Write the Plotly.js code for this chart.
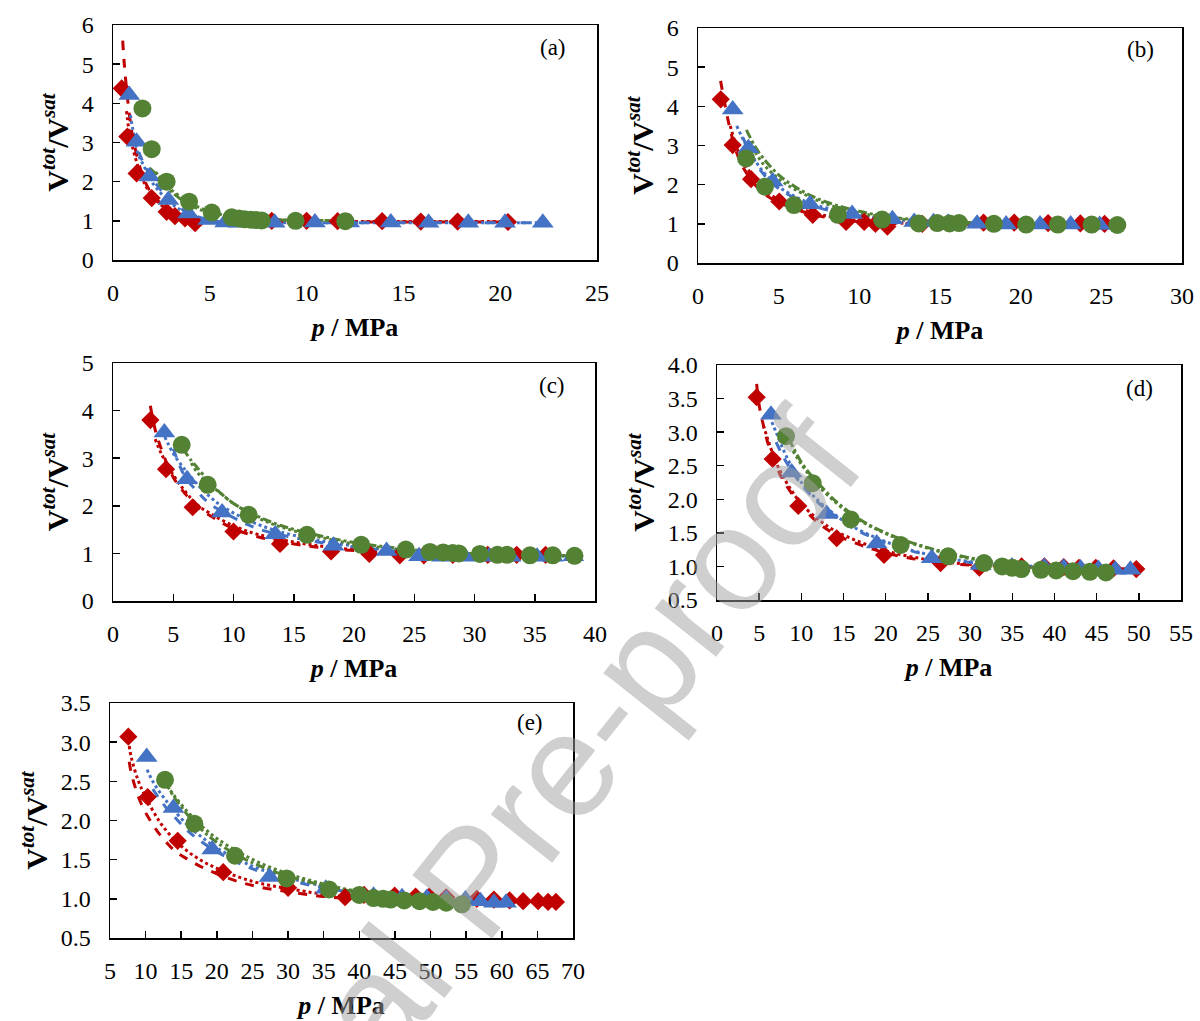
<!DOCTYPE html>
<html>
<head>
<meta charset="utf-8">
<script src="https://cdn.plot.ly/plotly-3.0.1.min.js"></script>
<style>html,body{margin:0;padding:0;background:#fff;}#chart{width:1200px;height:1021px;}</style>
</head>
<body>
<div id="chart"></div>
<script>
// ---------- Panel (a) ----------
const pA_red   = [0.45,0.74,1.22,2.0,2.77,3.2,3.72,4.24,8.2,10.0,11.6,13.9,15.9,17.8,20.4];
const vA_red   = [4.38,3.15,2.21,1.58,1.23,1.12,1.06,0.94,1.0,1.0,0.99,0.99,0.98,0.98,0.97];
const pA_blue  = [0.84,1.22,1.88,2.86,3.89,4.92,5.79,6.47,8.35,10.43,12.2,14.35,16.3,18.35,20.25,22.2];
const vA_blue  = [4.21,3.02,2.13,1.53,1.19,1.02,0.96,0.95,0.95,0.96,0.96,0.96,0.95,0.95,0.95,0.95];
const pA_green = [1.52,2.0,2.77,3.93,5.1,6.13,6.5,6.8,7.1,7.4,7.68,9.43,12.0];
const vA_green = [3.87,2.83,2.0,1.49,1.21,1.09,1.06,1.04,1.03,1.02,1.01,1.0,0.99];
// model curves (a)
const mA_red1_p = [0.5,0.6,0.8,1.0,1.5,2.0,3.0,4.0,5.0,7.0,10,15,20.5];
const mA_red1_v = [5.6,4.9,3.9,3.2,2.2,1.7,1.25,1.05,0.98,0.97,0.97,0.97,0.97];
const mA_red2_p = [0.7,0.8,1.0,1.5,2.0,3.0,4.0,5.0,8.0,12,20.5];
const mA_red2_v = [3.8,3.4,2.9,2.1,1.65,1.22,1.04,0.98,0.98,0.98,0.98];
const mA_blue1_p = [0.9,1.0,1.3,1.6,2.0,3.0,4.0,5.0,6.0,8.0,12,22.3];
const mA_blue1_v = [3.7,3.4,2.7,2.4,2.0,1.45,1.15,1.0,0.95,0.95,0.95,0.95];
const mA_blue2_p = [1.1,1.3,1.6,2.0,3.0,4.0,5.0,6.0,8.0,12,22.3];
const mA_blue2_v = [3.2,2.8,2.45,2.1,1.5,1.18,1.02,0.96,0.95,0.95,0.95];
const mA_green1_p = [1.9,2.4,3.0,4.0,5.0,6.0,7.6,9.5,12];
const mA_green1_v = [2.35,2.1,1.75,1.4,1.2,1.1,1.03,1.02,1.0];
const mA_green2_p = [2.2,2.6,3.0,4.0,5.0,6.0,7.6,9.5,12];
const mA_green2_v = [2.25,2.0,1.8,1.45,1.24,1.12,1.04,1.02,1.0];

// ---------- Panel (b) ----------
const pB_red   = [1.41,2.15,3.29,5.04,7.11,9.18,10.3,11.0,11.74,13.9,17.7,19.6,21.7,23.7,25.2];
const vB_red   = [4.18,3.01,2.14,1.57,1.23,1.05,1.05,1.0,0.93,1.0,1.03,1.03,1.02,1.01,1.0];
const pB_blue  = [2.15,3.12,4.63,6.94,9.55,12.05,13.4,14.6,15.5,17.3,19.1,21.2,23.1,24.9];
const vB_blue  = [3.92,2.93,2.08,1.5,1.25,1.12,1.05,1.04,1.03,1.0,0.98,0.98,0.98,0.97];
const pB_green = [2.98,4.15,5.95,8.67,11.41,13.68,14.83,15.59,16.18,18.34,20.34,22.3,24.4,25.99];
const vB_green = [2.67,1.95,1.48,1.23,1.11,1.01,1.02,1.01,1.02,1.0,0.98,0.98,0.98,0.97];
const mB_red1_p = [1.4,1.6,2.0,2.5,3.0,4.0,5.0,7.0,9.0,11,13,17,21,25.2];
const mB_red1_v = [4.65,4.2,3.4,2.7,2.3,1.8,1.55,1.25,1.1,1.03,1.0,0.98,0.97,0.97];
const mB_red2_p = [2.0,2.5,3.0,4.0,5.0,7.0,9.0,12,16,20,25];
const mB_red2_v = [3.5,2.85,2.45,1.9,1.62,1.3,1.13,1.03,0.99,0.98,0.97];
const mB_blue1_p = [2.4,3.0,4.0,5.0,6.0,7.0,9.0,11,13,17,21,25];
const mB_blue1_v = [3.5,3.0,2.35,1.95,1.7,1.52,1.3,1.16,1.08,1.02,1.0,0.99];
const mB_blue2_p = [2.8,3.0,4.0,5.0,7.0,9.0,12,15,20,25];
const mB_blue2_v = [3.2,3.0,2.3,1.9,1.48,1.27,1.1,1.04,1.0,0.99];
const mB_green1_p = [3.0,3.5,4.0,5.0,6.0,7.0,8.0,10,12,15,20,26];
const mB_green1_v = [3.4,3.0,2.7,2.25,1.95,1.72,1.55,1.32,1.17,1.06,1.0,0.98];
const mB_green2_p = [3.2,4.0,5.0,6.0,8.0,10,12,15,20,26];
const mB_green2_v = [3.1,2.55,2.15,1.88,1.5,1.28,1.15,1.05,0.99,0.98];

// ---------- Panel (c) ----------
const pC_red   = [3.1,4.4,6.61,10.0,13.86,18.1,21.27,23.8,25.8,28.2,31.1,33.5,35.9];
const vC_red   = [3.8,2.77,1.97,1.46,1.2,1.04,0.99,0.96,0.96,0.97,0.97,0.97,0.97];
const pC_blue  = [4.26,6.14,9.05,13.47,18.3,22.7,25.4,27.3,29.2,31.2,33.0,35.2,36.5,38.2];
const vC_blue  = [3.54,2.56,1.86,1.4,1.16,1.05,0.94,0.93,0.93,0.93,0.93,0.93,0.93,0.94];
const pC_green = [5.7,7.86,11.26,16.1,20.6,24.3,26.3,27.4,28.2,28.7,30.45,31.9,32.7,34.6,36.5,38.3];
const vC_green = [3.28,2.44,1.81,1.39,1.18,1.08,1.03,1.02,1.01,1.0,0.99,0.97,0.97,0.96,0.96,0.95];
const mC_red1_p = [3.1,3.5,4,5,6,7,8,10,12,14,17,20,25,30,36];
const mC_red1_v = [4.1,3.6,3.2,2.6,2.25,1.98,1.8,1.52,1.35,1.24,1.13,1.06,1.0,0.97,0.96];
const mC_red2_p = [3.5,4,5,6,7,8,10,12,15,18,22,26,30,36];
const mC_red2_v = [3.4,3.1,2.65,2.3,2.02,1.85,1.58,1.4,1.24,1.13,1.04,1.0,0.97,0.96];
const mC_blue1_p = [4.3,5,6,7,8,9,11,13,15,18,22,26,30,38];
const mC_blue1_v = [3.45,3.1,2.75,2.45,2.2,2.0,1.72,1.52,1.38,1.23,1.1,1.02,0.98,0.94];
const mC_blue2_p = [5,6,7,8,10,12,15,18,22,26,30,38];
const mC_blue2_v = [3.2,2.6,2.3,2.05,1.75,1.52,1.33,1.2,1.08,1.0,0.96,0.93];
const mC_green1_p = [5.8,6.5,7,8,9,10,12,14,17,20,24,28,32,38.3];
const mC_green1_v = [3.2,2.95,2.8,2.5,2.25,2.05,1.78,1.58,1.38,1.23,1.1,1.02,0.98,0.95];
const mC_green2_p = [6.5,7,8,9,10,12,14,17,20,24,28,32,38.3];
const mC_green2_v = [2.9,2.7,2.45,2.25,2.05,1.75,1.55,1.35,1.2,1.08,1.01,0.98,0.95];

// ---------- Panel (d) ----------
const pD_red   = [4.7,6.6,9.64,14.19,19.8,26.5,31.1,36.1,38.8,41.1,42.9,44.9,47.0,49.7];
const vD_red   = [3.52,2.6,1.9,1.42,1.17,1.05,0.98,1.0,1.0,0.99,0.98,0.98,0.97,0.96];
const pD_blue  = [6.4,8.85,13.0,18.93,25.45,31.26,34.96,38.8,41.1,43.1,45.2,47.2,49.0];
const vD_blue  = [3.26,2.4,1.78,1.34,1.12,1.02,1.0,0.99,0.98,0.97,0.96,0.95,0.95];
const pD_green = [8.18,11.34,15.85,21.77,27.4,31.65,33.8,35.0,36.1,38.4,40.2,42.2,44.2,46.1];
const vD_green = [2.94,2.24,1.7,1.32,1.15,1.05,1.0,0.98,0.96,0.95,0.94,0.93,0.92,0.91];
const mD_red1_p = [4.7,5,5.5,6,7,8,10,12,14,17,20,25,30,35,40,45,50];
const mD_red1_v = [3.72,3.4,3.1,2.85,2.5,2.25,1.9,1.65,1.48,1.32,1.2,1.08,1.02,1.0,0.98,0.97,0.96];
const mD_red2_p = [5.5,6,7,8,9,10,12,14,17,20,25,30,35,40,45,50];
const mD_red2_v = [3.1,2.9,2.55,2.3,2.1,1.93,1.7,1.53,1.36,1.23,1.1,1.03,1.0,0.98,0.97,0.96];
const mD_blue1_p = [6.5,7,8,9,10,12,14,16,19,22,25,30,35,40,45,49];
const mD_blue1_v = [3.15,3.0,2.7,2.45,2.25,1.98,1.77,1.6,1.42,1.28,1.18,1.07,1.02,0.99,0.97,0.95];
const mD_blue2_p = [7,8,9,10,12,14,16,19,22,25,30,35,40,45,49];
const mD_blue2_v = [2.85,2.6,2.4,2.22,1.95,1.75,1.58,1.4,1.27,1.17,1.06,1.01,0.98,0.96,0.95];
const mD_green1_p = [8.5,9,10,11,12,14,16,18,20,22,25,28,32,36,40,46];
const mD_green1_v = [2.9,2.78,2.55,2.38,2.24,1.98,1.78,1.62,1.5,1.4,1.28,1.18,1.08,1.0,0.96,0.91];
const mD_green2_p = [9,10,11,12,14,16,18,20,22,25,28,32,36,40,46];
const mD_green2_v = [2.72,2.52,2.35,2.2,1.96,1.76,1.61,1.49,1.39,1.27,1.17,1.07,1.0,0.96,0.91];

// ---------- Panel (e) ----------
const pE_red   = [7.57,10.29,14.5,20.9,30.0,38.0,40.66,44.96,47.9,49.8,52.2,56.5,58.9,61.1,63.0,65.1,66.5,67.6];
const vE_red   = [3.07,2.3,1.74,1.34,1.14,1.02,1.05,1.04,1.03,1.03,1.02,1.0,0.99,0.98,0.97,0.97,0.96,0.96];
const pE_blue  = [10.15,13.9,19.35,27.4,35.3,42.0,46.0,49.5,52.2,54.9,57.0,58.9,60.6];
const vE_blue  = [2.81,2.16,1.63,1.28,1.13,1.04,1.02,1.01,1.0,0.99,0.97,0.95,0.95];
const pE_green = [12.72,16.84,22.55,29.8,35.75,40.0,42.0,43.35,44.4,46.3,48.45,50.35,52.2,54.4];
const vE_green = [2.52,1.96,1.55,1.26,1.12,1.05,1.01,1.0,0.99,0.98,0.97,0.96,0.95,0.93];
const mE_red1_p = [7.7,8,9,10,11,12,14,16,18,20,23,26,30,35,40,45,50,55,60,67.5];
const mE_red1_v = [2.75,2.6,2.3,2.1,1.95,1.82,1.62,1.5,1.4,1.32,1.22,1.15,1.09,1.03,1.0,0.99,0.98,0.97,0.97,0.96];
const mE_red2_p = [7.7,8,9,10,12,14,16,18,20,23,26,30,35,40,45,50,55,60,67.5];
const mE_red2_v = [2.95,2.8,2.5,2.3,1.98,1.76,1.6,1.48,1.39,1.28,1.2,1.13,1.06,1.02,1.0,0.99,0.98,0.97,0.96];
const mE_blue1_p = [10.2,11,12,13,14,16,18,20,23,26,30,35,40,45,50,55,60.5];
const mE_blue1_v = [2.65,2.5,2.36,2.24,2.13,1.93,1.78,1.65,1.5,1.38,1.27,1.16,1.08,1.03,1.0,0.98,0.95];
const mE_blue2_p = [11,12,13,14,16,18,20,23,26,30,35,40,45,50,55,60.5];
const mE_blue2_v = [2.4,2.27,2.15,2.05,1.86,1.72,1.6,1.46,1.35,1.24,1.14,1.07,1.02,0.99,0.97,0.95];
const mE_green1_p = [12.7,14,16,18,20,23,26,30,35,40,45,50,54.5];
const mE_green1_v = [2.5,2.3,2.06,1.87,1.72,1.55,1.42,1.29,1.17,1.08,1.02,0.97,0.93];
const mE_green2_p = [13,14,16,18,20,23,26,30,35,40,45,50,54.5];
const mE_green2_v = [2.45,2.32,2.1,1.92,1.77,1.6,1.46,1.32,1.19,1.09,1.02,0.97,0.93];

const panelLabels = ['(a)','(b)','(c)','(d)','(e)'];
const xTitle = '<b><i>p</i> / MPa</b>';
const yTitle = '<b>V<sup><i>tot</i></sup>/V<sup><i>sat</i></sup></b>';
const watermark = 'Journal Pre-proof';

// ---------- styles ----------
const RED = '#C00000', BLUE = '#4472C4', GREEN = '#548235';
const serif = '"Liberation Serif", "Times New Roman", serif';

const panels = [
  {id:'', mk:[[pA_red,vA_red],[pA_blue,vA_blue],[pA_green,vA_green]],
   ml:[[mA_red1_p,mA_red1_v],[mA_red2_p,mA_red2_v],[mA_blue1_p,mA_blue1_v],[mA_blue2_p,mA_blue2_v],[mA_green1_p,mA_green1_v],[mA_green2_p,mA_green2_v]]},
  {id:'2', mk:[[pB_red,vB_red],[pB_blue,vB_blue],[pB_green,vB_green]],
   ml:[[mB_red1_p,mB_red1_v],[mB_red2_p,mB_red2_v],[mB_blue1_p,mB_blue1_v],[mB_blue2_p,mB_blue2_v],[mB_green1_p,mB_green1_v],[mB_green2_p,mB_green2_v]]},
  {id:'3', mk:[[pC_red,vC_red],[pC_blue,vC_blue],[pC_green,vC_green]],
   ml:[[mC_red1_p,mC_red1_v],[mC_red2_p,mC_red2_v],[mC_blue1_p,mC_blue1_v],[mC_blue2_p,mC_blue2_v],[mC_green1_p,mC_green1_v],[mC_green2_p,mC_green2_v]]},
  {id:'4', mk:[[pD_red,vD_red],[pD_blue,vD_blue],[pD_green,vD_green]],
   ml:[[mD_red1_p,mD_red1_v],[mD_red2_p,mD_red2_v],[mD_blue1_p,mD_blue1_v],[mD_blue2_p,mD_blue2_v],[mD_green1_p,mD_green1_v],[mD_green2_p,mD_green2_v]]},
  {id:'5', mk:[[pE_red,vE_red],[pE_blue,vE_blue],[pE_green,vE_green]],
   ml:[[mE_red1_p,mE_red1_v],[mE_red2_p,mE_red2_v],[mE_blue1_p,mE_blue1_v],[mE_blue2_p,mE_blue2_v],[mE_green1_p,mE_green1_v],[mE_green2_p,mE_green2_v]]}
];
const lineStyles = [
  {color:RED, dash:'dash'}, {color:RED, dash:'dot'},
  {color:BLUE, dash:'dot'}, {color:BLUE, dash:'dash'},
  {color:GREEN, dash:'dashdot'}, {color:GREEN, dash:'dot'}
];
const markerStyles = [
  {color:RED, symbol:'diamond', size:14},
  {color:BLUE, symbol:'triangle-up', size:19},
  {color:GREEN, symbol:'circle', size:18}
];

const traces = [];
panels.forEach(pn => {
  const xa = 'x' + pn.id, ya = 'y' + pn.id;
  pn.ml.forEach((m, i) => {
    traces.push({x:m[0], y:m[1], xaxis:xa, yaxis:ya, mode:'lines', type:'scatter',
      line:{color:lineStyles[i].color, dash:lineStyles[i].dash, width:3, shape:'spline'},
      hoverinfo:'skip', showlegend:false});
  });
  pn.mk.forEach((m, i) => {
    traces.push({x:m[0], y:m[1], xaxis:xa, yaxis:ya, mode:'markers', type:'scatter',
      marker:{color:markerStyles[i].color, symbol:markerStyles[i].symbol, size:markerStyles[i].size, line:{width:0}},
      showlegend:false});
  });
});

function xAx(domain, range, anchor, ticks) {
  return {domain:domain, range:range, anchor:anchor, dtick:5, tick0:0,
    showline:true, mirror:true, linecolor:'black', linewidth:1.5,
    ticks:ticks, ticklen:7, tickwidth:1.5, tickcolor:'black',
    showgrid:false, zeroline:false, ticklabelstandoff:11,
    tickfont:{family:serif, size:24, color:'black'},
    title:{text:xTitle, font:{family:serif, size:26, color:'black'}, standoff:12}};
}
function yAx(domain, range, anchor, dtick, fmt) {
  return {domain:domain, range:range, anchor:anchor, dtick:dtick, tickformat:fmt,
    showline:true, mirror:true, linecolor:'black', linewidth:1.5,
    ticks:'inside', ticklen:7, tickwidth:1.5, tickcolor:'black',
    showgrid:false, zeroline:false, ticklabelstandoff:13,
    tickfont:{family:serif, size:24, color:'black'},
    title:{text:yTitle, font:{family:serif, size:30, color:'black'}, standoff:4}};
}

const W = 1200, H = 1021;
const px = v => v / W, py = v => 1 - v / H;
const lab = (t, x, y) => ({text:t, x:px(x), y:py(y), xref:'paper', yref:'paper', xanchor:'center', yanchor:'middle',
  showarrow:false, font:{family:serif, size:23, color:'black'}});

const layout = {
  width:W, height:H, margin:{l:0, r:0, t:0, b:0},
  paper_bgcolor:'white', plot_bgcolor:'white', showlegend:false,
  xaxis:  xAx([px(113), px(597)], [0,25], 'y', ''),
  yaxis:  yAx([py(260), py(25)], [0,6], 'x', 1, 'd'),
  xaxis2: xAx([px(698), px(1182)], [0,30], 'y2', ''),
  yaxis2: yAx([py(263), py(28)], [0,6], 'x2', 1, 'd'),
  xaxis3: xAx([px(113), px(595)], [0,40], 'y3', 'inside'),
  yaxis3: yAx([py(601), py(363)], [0,5], 'x3', 1, 'd'),
  xaxis4: xAx([px(717), px(1181)], [0,55], 'y4', 'inside'),
  yaxis4: yAx([py(600), py(365)], [0.5,4.0], 'x4', 0.5, '.1f'),
  xaxis5: Object.assign(xAx([px(110), px(573)], [5,70], 'y5', 'inside'), {tick0:5}),
  yaxis5: yAx([py(938), py(703)], [0.5,3.5], 'x5', 0.5, '.1f'),
  annotations: [
    lab(panelLabels[0], 553, 47),
    lab(panelLabels[1], 1140, 50),
    lab(panelLabels[2], 552, 385),
    lab(panelLabels[3], 1139, 388),
    lab(panelLabels[4], 530, 722),
    {text:watermark, x:px(472), y:py(880), xref:'paper', yref:'paper', xanchor:'center', yanchor:'middle',
     showarrow:false, textangle:-51.5,
     font:{family:'"Liberation Sans", Arial, sans-serif', size:148, color:'rgba(160,160,160,0.5)'}}
  ]
};

Plotly.newPlot('chart', traces, layout, {displayModeBar:false, staticPlot:true});
</script>
</body>
</html>
